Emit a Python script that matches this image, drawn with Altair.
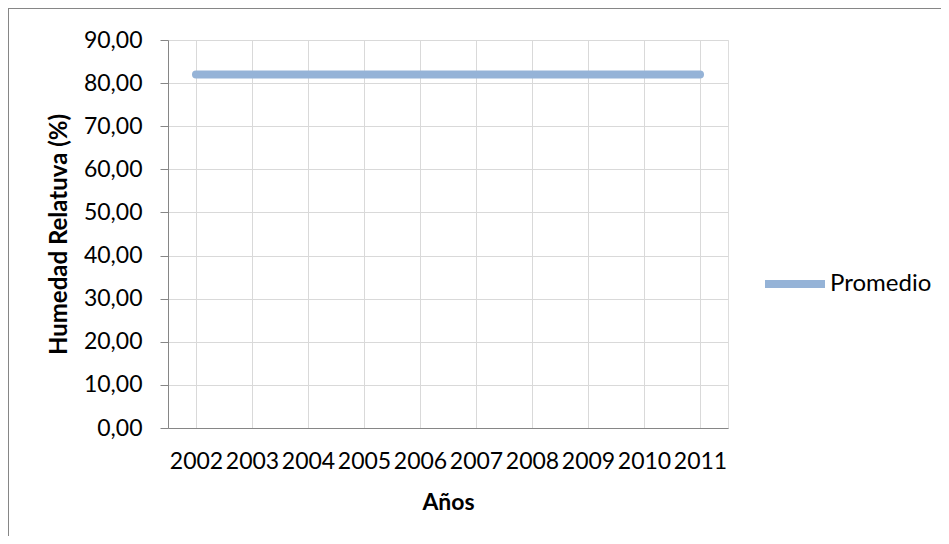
import altair as alt
import pandas as pd

years = ["2002", "2003", "2004", "2005", "2006", "2007", "2008", "2009", "2010", "2011"]
promedio = [82.0, 82.0, 82.0, 82.0, 82.0, 82.0, 82.0, 82.0, 82.0, 82.0]
series_name = "Promedio"

df = pd.DataFrame({"Año": years, "Valor": promedio, "Serie": [series_name] * len(years)})

FONT = "Lato"
LINE_COLOR = "#95B3D7"

line = alt.Chart(df).mark_line(strokeWidth=8, strokeCap="round", strokeJoin="round").encode(
    x=alt.X("Año:O", sort=years,
            scale=alt.Scale(type="point", padding=0.5),
            axis=alt.Axis(title="Años", labelAngle=0, labelFont=FONT, labelFontSize=23,
                          labelColor="#000000", labelPadding=22, ticks=False,
                          domainColor="#868686", grid=True, gridColor="#D9D9D9",
                          titleFont=FONT, titleFontSize=23, titleFontWeight="bold",
                          titleColor="#000000", titlePadding=18)),
    y=alt.Y("Valor:Q",
            scale=alt.Scale(domain=[0, 90], nice=False, zero=True),
            axis=alt.Axis(title="Humedad Relatuva (%)", values=list(range(0, 91, 10)),
                          labelExpr="replace(format(datum.value, '.2f'), '.', ',')",
                          labelFont=FONT, labelFontSize=23, labelColor="#000000",
                          labelPadding=18, tickSize=8, tickColor="#868686",
                          domainColor="#868686", gridColor="#D9D9D9",
                          titleFont=FONT, titleFontSize=24, titleFontWeight="bold",
                          titleColor="#000000", titlePadding=12)),
    color=alt.Color("Serie:N", scale=alt.Scale(domain=[series_name], range=[LINE_COLOR]),
                    legend=alt.Legend(title=None, orient="none", legendX=593, legendY=210,
                                      symbolType="stroke", symbolSize=3600,
                                      symbolStrokeWidth=8, labelFont=FONT,
                                      labelFontSize=24, labelColor="#000000",
                                      labelOffset=1)),
)

border = alt.Chart(df).mark_rect(fill=None, stroke="#868686", strokeWidth=1, clip=False).encode(
    x=alt.value(-160), x2=alt.value(900), y=alt.value(-32), y2=alt.value(600)
)

chart = alt.layer(border, line).properties(
    width=560, height=388,
    padding={"left": 160, "top": 32, "right": 213, "bottom": 108},
    autosize=alt.AutoSizeParams(type="none"),
).configure_view(stroke=None).configure(background="white")

chart.save("out.html", embed_options={"renderer": "svg", "actions": False})
